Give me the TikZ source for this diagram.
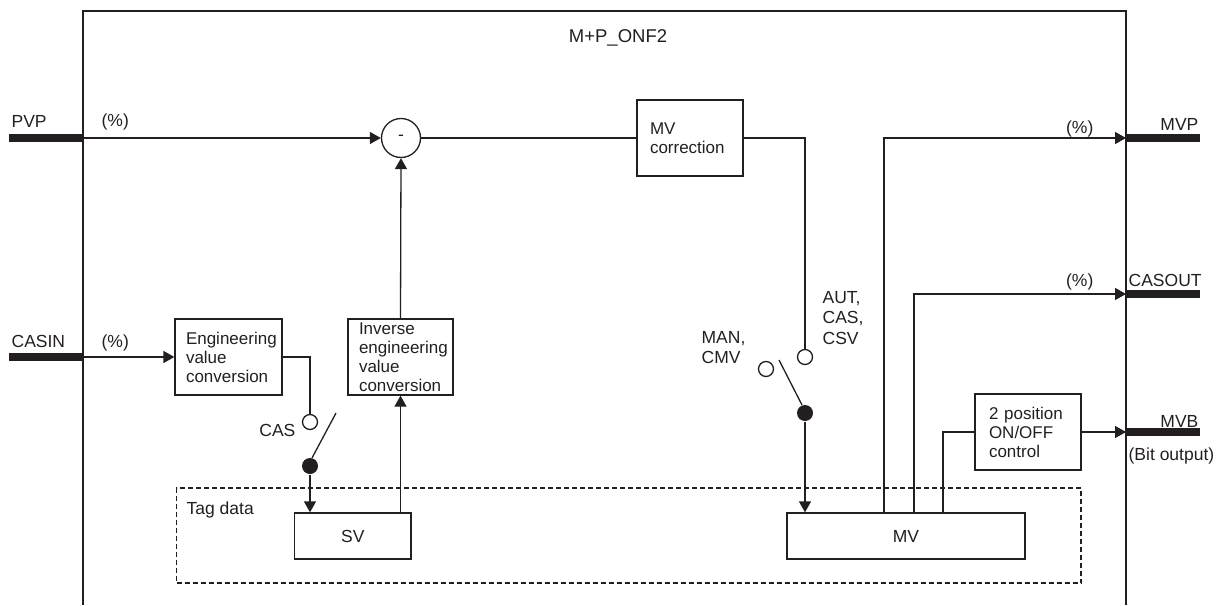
\documentclass[tikz,border=0pt]{standalone}
\usepackage{fontspec}
\setmainfont{Liberation Sans}
\usetikzlibrary{arrows.meta}
\definecolor{ink}{RGB}{35,31,32}
\begin{document}
\begin{tikzpicture}[x=1pt,y=-1pt,
  line width=1.3pt, color=ink,
  every node/.style={font=\fontsize{17.5}{19}\selectfont, inner sep=0pt, text=ink},
  blk/.style={draw, align=left, minimum height=76pt, inner ysep=0pt, font=\fontsize{17}{19}\selectfont},
  arr/.style={-{Triangle[length=11pt,width=12pt]}},
  bus/.style={line width=8pt},
  opencontact/.style={draw, fill=white, circle, minimum size=15pt},
  dotcontact/.style={fill, circle, minimum size=16pt},
  lbl/.style={font=\fontsize{17.5}{20.5}\selectfont, align=left}]
\useasboundingbox (0,0) rectangle (1226,605);
% frame
\coordinate (fbl) at (83,605);
\coordinate (ftl) at (83,11);
\coordinate (ftr) at (1126,11);
\coordinate (fbr) at (1126,605);
\draw (fbl) -- (ftl) -- (ftr) -- (fbr);
\node[anchor=base, font=\fontsize{18.5}{20}\selectfont] (title) at (618,42) {M+P\_ONF2};
% tag data
\node[draw, line width=1.2pt, dash pattern=on 5pt off 3pt, minimum width=904.5pt, minimum height=95pt] (tag) at (628.75,535.5) {};
\node[anchor=base west] (taglbl) at (186,514) {Tag data};
% inputs
\coordinate (pvpext) at (9,138);
\coordinate (pvpin) at (83,138);
\coordinate (casinext) at (9,357);
\coordinate (casinin) at (83,357);
\draw[bus] (pvpext) -- (pvpin);
\draw[bus] (casinext) -- (casinin);
\node[anchor=base west] (pvplbl) at (11,127) {PVP};
\node[anchor=base west] (pvppct) at (101,126) {(\%)};
\node[anchor=base west] (casinlbl) at (11,347) {CASIN};
\node[anchor=base west] (casinpct) at (101,347) {(\%)};
% blocks
\node[draw, circle, minimum size=39pt] (sum) at (401,138) {-};
\node[blk, text width=85pt, inner xsep=11pt] (eng) at (228.5,357) {Engineering\\value\\conversion};
\node[blk, text width=83pt, inner xsep=11pt] (inv) at (400.5,357) {Inverse\\engineering\\value\\conversion};
\node[blk, text width=80pt, inner xsep=13pt] (mvc) at (690,138) {MV\\correction};
\node[blk, text width=78pt, inner xsep=14pt] (onoff) at (1028,432) {2 position\\ON/OFF\\control};
\node[draw, minimum width=116.5pt, minimum height=46pt] (sv) at (352.75,536) {SV};
\node[draw, minimum width=238pt, minimum height=46pt] (mv) at (906,536) {MV};
% switches
\node[opencontact] (c2) at (310,422) {};
\node[dotcontact] (d2) at (310,466) {};
\coordinate (a2s) at (336,413);
\coordinate (a2e) at (312,458);
\draw (a2s) -- (a2e);
\node[anchor=base east] (caslbl) at (296,436) {CAS};
\node[opencontact] (c1) at (805,357) {};
\node[opencontact] (c1b) at (766,369) {};
\node[dotcontact] (d1) at (805,413) {};
\coordinate (a1s) at (779,360);
\coordinate (a1e) at (802,405);
\draw (a1s) -- (a1e);
\node[lbl, anchor=west] (manlbl) at (701,347.5) {MAN,\\CMV};
\node[lbl, anchor=west] (autlbl) at (822,318) {AUT,\\CAS,\\CSV};
% connectors
\draw[arr] (pvpin) -- (sum.west);
\draw[arr] (inv.north) -- (sum.south);
\draw (sum.east) -- (mvc.west);
\draw (mvc.east) -| (c1.north);
\draw[arr] (d1.south) -- (d1 |- mv.north);
\draw[arr] (casinin) -- (eng.west);
\draw (eng.east) -| (c2.north);
\draw[arr] (d2.south) -- (d2 |- sv.north);
\draw[arr] (inv.south |- sv.north) -- (inv.south);
% outputs
\coordinate (m1) at (884,513);
\coordinate (m2) at (914,513);
\coordinate (m3) at (943,513);
\coordinate (mvpout) at (1126,138);
\coordinate (casout) at (1126,294);
\coordinate (mvbout) at (1126,432);
\coordinate (mvpext) at (1200,138);
\coordinate (casoutext) at (1200,294);
\coordinate (mvbext) at (1200,432);
\draw[arr] (m1) |- (mvpout);
\draw[arr] (m2) |- (casout);
\draw (m3) |- (onoff.west);
\draw[arr] (onoff.east) -- (mvbout);
\draw[bus] (mvpout) -- (mvpext);
\draw[bus] (casout) -- (casoutext);
\draw[bus] (mvbout) -- (mvbext);
\node[anchor=base east] (mvppct) at (1094,133) {(\%)};
\node[anchor=base east] (caspct) at (1094,286) {(\%)};
\node[anchor=base east] (mvplbl) at (1199,130) {MVP};
\node[anchor=base west] (casoutlbl) at (1128,286) {CASOUT};
\node[anchor=base east] (mvblbl) at (1199,427) {MVB};
\node[anchor=base west] (bitlbl) at (1128,460) {(Bit output)};
\end{tikzpicture}
\end{document}
